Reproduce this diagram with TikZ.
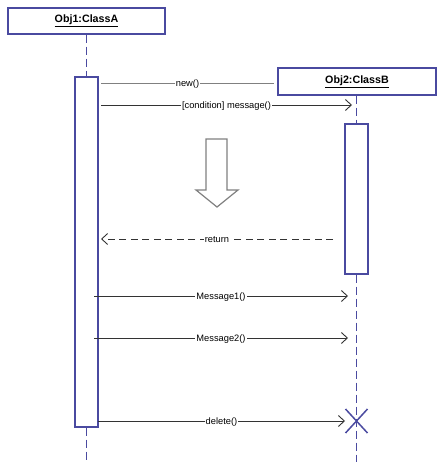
\documentclass[tikz,border=0pt]{standalone}
\usepackage{fontspec}
\setmainfont{Liberation Sans}
\usetikzlibrary{arrows.meta}
\definecolor{uml}{HTML}{4A4AA0}
\definecolor{msg}{HTML}{333333}
\definecolor{grey1}{HTML}{808080}
\begin{document}
\begin{tikzpicture}[x=1pt,y=-1pt,
  objbox/.style={draw=uml,line width=1.3pt,fill=white,inner sep=0pt,font=\fontsize{10.7}{12}\selectfont\bfseries},
  actbox/.style={draw=uml,line width=1.3pt,fill=white,minimum width=23pt,inner sep=0pt},
  lifeline/.style={draw=uml,line width=1.3pt,dash pattern=on 8pt off 4pt},
  msgline/.style={draw=msg,line width=0.9pt,-{Straight Barb[length=6pt,width=11pt]}},
  lbl/.style={fill=white,inner sep=1pt,yshift=-0.8pt,font=\fontsize{9.3}{11}\selectfont,text=black}]
\useasboundingbox (0,0) rectangle (444,462);
% lifeline ends
\coordinate (e1) at (86.5,462);
\coordinate (e2) at (356.5,462);
% objects
\node[objbox,minimum width=157pt,minimum height=26pt] (o1) at (86.5,21) {\underline{Obj1:ClassA}};
\node[objbox,minimum width=158pt,minimum height=27pt] (o2) at (357,81.5) {\underline{Obj2:ClassB}};
\node[actbox,minimum height=350pt] (a1) at (86.5,252) {};
\node[actbox,minimum height=150pt] (a2) at (356.5,199) {};
% lifelines
\draw[lifeline] (o1.south) -- (a1.north);
\draw[lifeline] (a1.south) -- (e1);
\draw[lifeline] (o2.south -| a2.north) -- (a2.north);
\draw[lifeline] (a2.south) -- (e2);
% message coordinates
\coordinate (n1) at (101,83);
\coordinate (n2) at (274,83);
\coordinate (c1) at (101,105);
\coordinate (c2) at (352,105);
\coordinate (r1) at (333,239);
\coordinate (r2) at (101,239);
\coordinate (m1a) at (94,296);
\coordinate (m1b) at (348,296);
\coordinate (m2a) at (94,338);
\coordinate (m2b) at (348,338);
\coordinate (d1) at (98,421);
\coordinate (d2) at (345,421);
\coordinate (x) at (356.5,421);
% messages
\draw[draw=grey1,line width=0.9pt] (n1) -- node[lbl]{new()} (n2);
\draw[msgline] (c1) -- node[lbl]{[condition] message()} (c2);
\draw[msgline,dash pattern=on 7pt off 4.5pt] (r1) -- node[lbl]{return} (r2);
\draw[msgline] (m1a) -- node[lbl]{Message1()} (m1b);
\draw[msgline] (m2a) -- node[lbl]{Message2()} (m2b);
\draw[msgline] (d1) -- node[lbl]{delete()} (d2);
% destruction cross
\draw[uml,line width=1.5pt] ([shift={(-11,-12)}]x) -- ([shift={(11,12)}]x)
  ([shift={(-11,12)}]x) -- ([shift={(11,-12)}]x);
% big hollow arrow
\draw[grey1,line width=1.2pt,fill=white,line join=miter]
  (206,139) -- (227,139) -- (227,190) -- (238,190) -- (217,207) -- (196,190) -- (206,190) -- cycle;
\end{tikzpicture}
\end{document}
